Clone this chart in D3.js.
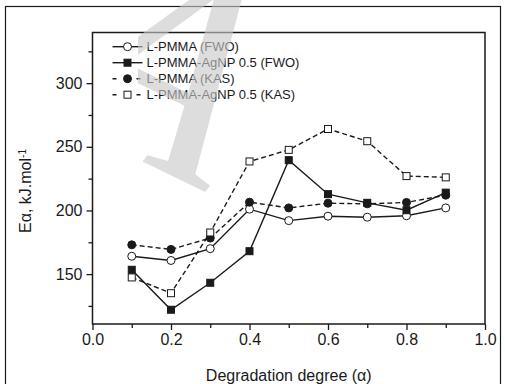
<!DOCTYPE html>
<html>
<head>
<meta charset="utf-8">
<script src="https://cdn.jsdelivr.net/npm/d3@7"></script>
<style>
  body { margin: 0; background: #fff; }
  svg { display: block; font-family: "Liberation Sans", Arial, sans-serif; }
</style>
</head>
<body>
<div id="chart"></div>
<script>
// Degradation degree values (x)
const alphas = [0.1, 0.2, 0.3, 0.4, 0.5, 0.6, 0.7, 0.8, 0.9];

// Activation energy, kJ/mol
const pmmaFWO = [164, 160.7, 170, 201, 192, 195.5, 194.7, 195.8, 202];
const agnpFWO = [153.4, 122, 143.2, 168, 239.5, 212.8, 206, 200.2, 214];
const pmmaKAS = [173, 169.4, 178.3, 206.5, 202, 205.7, 205.2, 206.3, 212];
const agnpKAS = [147.4, 135, 182.7, 238.5, 247.6, 264, 254.4, 227, 226];

const seriesNames = ['L-PMMA (FWO)', 'L-PMMA-AgNP 0.5 (FWO)', 'L-PMMA (KAS)', 'L-PMMA-AgNP 0.5 (KAS)'];
const xTicks = [0, 0.2, 0.4, 0.6, 0.8, 1.0];
const yTicks = [150, 200, 250, 300];

const series = [
    { name: seriesNames[0], values: pmmaFWO, marker: 'circle', filled: false, dashed: false },
    { name: seriesNames[1], values: agnpFWO, marker: 'square', filled: true, dashed: false },
    { name: seriesNames[2], values: pmmaKAS, marker: 'circle', filled: true, dashed: true },
    { name: seriesNames[3], values: agnpKAS, marker: 'square', filled: false, dashed: true }
];

const W = 505, H = 384;
const margin = { top: 32.5, right: 20, bottom: 60, left: 92.5 };
const width = W - margin.left - margin.right;
const height = H - margin.top - margin.bottom;
const ink = '#1a1a1a';

const root = d3.select('#chart').append('svg')
    .attr('width', W)
    .attr('height', H);

// outer frame
root.append('rect')
    .attr('x', 5.5).attr('y', 6.5)
    .attr('width', 495).attr('height', H)
    .attr('fill', 'none').attr('stroke', ink).attr('stroke-width', 1.2);

const svg = root.append('g')
    .attr('transform', `translate(${margin.left},${margin.top})`);

const x = d3.scaleLinear().domain([0, 1]).range([0, width]);
const y = d3.scaleLinear().domain([110.8, 339.8]).range([height, 0]);

// plot box
svg.append('rect')
    .attr('width', width).attr('height', height)
    .attr('fill', 'none').attr('stroke', ink).attr('stroke-width', 1.5);

// x axis, major + minor
const xMinor = d3.range(0.1, 1, 0.2);
svg.append('g')
    .attr('transform', `translate(0,${height})`)
    .call(d3.axisBottom(x).tickValues(xMinor).tickSize(4).tickFormat(''))
    .call(g => g.select('.domain').remove())
    .call(g => g.selectAll('line').attr('stroke', ink).attr('stroke-width', 1.3));

svg.append('g')
    .attr('transform', `translate(0,${height})`)
    .call(d3.axisBottom(x).tickValues(xTicks).tickSize(6).tickPadding(4).tickFormat(d3.format('.1f')))
    .call(g => g.select('.domain').remove())
    .call(g => g.selectAll('line').attr('stroke', ink).attr('stroke-width', 1.3))
    .call(g => g.selectAll('text').attr('fill', ink).style('font-size', '16px')
        .style('font-family', '"Liberation Sans", Arial, sans-serif'));

// y axis, major + minor
const yMinor = [125, 175, 225, 275, 325];
svg.append('g')
    .call(d3.axisLeft(y).tickValues(yMinor).tickSize(4).tickFormat(''))
    .call(g => g.select('.domain').remove())
    .call(g => g.selectAll('line').attr('stroke', ink).attr('stroke-width', 1.3));

svg.append('g')
    .call(d3.axisLeft(y).tickValues(yTicks).tickSize(6).tickPadding(4))
    .call(g => g.select('.domain').remove())
    .call(g => g.selectAll('line').attr('stroke', ink).attr('stroke-width', 1.3))
    .call(g => g.selectAll('text').attr('fill', ink).style('font-size', '16px')
        .style('font-family', '"Liberation Sans", Arial, sans-serif'));

// axis titles
svg.append('text')
    .attr('x', width / 2)
    .attr('y', height + 57)
    .attr('text-anchor', 'middle')
    .attr('fill', ink)
    .style('font-size', '16px')
    .text('Degradation degree (α)');

const yTitle = svg.append('text')
    .attr('transform', `translate(${25 - margin.left},${191 - margin.top}) rotate(-90)`)
    .attr('text-anchor', 'middle')
    .attr('dy', '0.35em')
    .attr('fill', ink)
    .style('font-size', '16px');
yTitle.append('tspan').text('Eα, kJ.mol');
yTitle.append('tspan').attr('dy', '-0.45em').style('font-size', '10px').text('-1');

// lines
const line = d3.line()
    .x((d, i) => x(alphas[i]))
    .y(d => y(d));

function drawMarker(g, s, cx, cy) {
    if (s.marker === 'circle') {
        g.append('circle')
            .attr('cx', cx).attr('cy', cy).attr('r', 4)
            .attr('fill', s.filled ? ink : '#fff')
            .attr('stroke', ink).attr('stroke-width', 1);
    } else {
        g.append('rect')
            .attr('x', cx - 3.5).attr('y', cy - 3.5)
            .attr('width', 7).attr('height', 7)
            .attr('fill', s.filled ? ink : '#fff')
            .attr('stroke', ink).attr('stroke-width', 1);
    }
}

series.forEach(s => {
    svg.append('path')
        .datum(s.values)
        .attr('d', line)
        .attr('fill', 'none')
        .attr('stroke', ink)
        .attr('stroke-width', 1.4)
        .attr('stroke-dasharray', s.dashed ? '5,3' : null);
});

series.forEach(s => {
    const g = svg.append('g');
    s.values.forEach((v, i) => drawMarker(g, s, x(alphas[i]), y(v)));
});

// legend
const legend = svg.append('g')
    .attr('transform', `translate(${112.5 - margin.left},${46.7 - margin.top})`);

series.forEach((s, i) => {
    const row = legend.append('g').attr('transform', `translate(0,${i * 16})`);
    row.append('line')
        .attr('x1', 0).attr('x2', 30)
        .attr('stroke', ink).attr('stroke-width', 1.4)
        .attr('stroke-dasharray', s.dashed ? '4,8' : null);
    drawMarker(row, s, 15, 0);
    row.append('text')
        .attr('x', 34)
        .attr('dy', '0.35em')
        .attr('fill', ink)
        .style('font-size', '13px')
        .text(s.name);
});

// watermark over the chart (only its right-hand part shows in the picture)
root.append('clipPath')
    .attr('id', 'wm-clip')
    .append('rect')
    .attr('x', 138).attr('y', 0)
    .attr('width', W - 138).attr('height', H);

root.append('g')
    .attr('clip-path', 'url(#wm-clip)')
    .append('text')
    .attr('transform', 'translate(41,112) rotate(26)')
    .attr('fill', 'rgb(200,200,200)')
    .attr('fill-opacity', 0.62)
    .style('font-family', '"Liberation Serif", "DejaVu Serif", serif')
    .style('font-style', 'italic')
    .style('font-size', '300px')
    .text('A');
</script>
</body>
</html>
